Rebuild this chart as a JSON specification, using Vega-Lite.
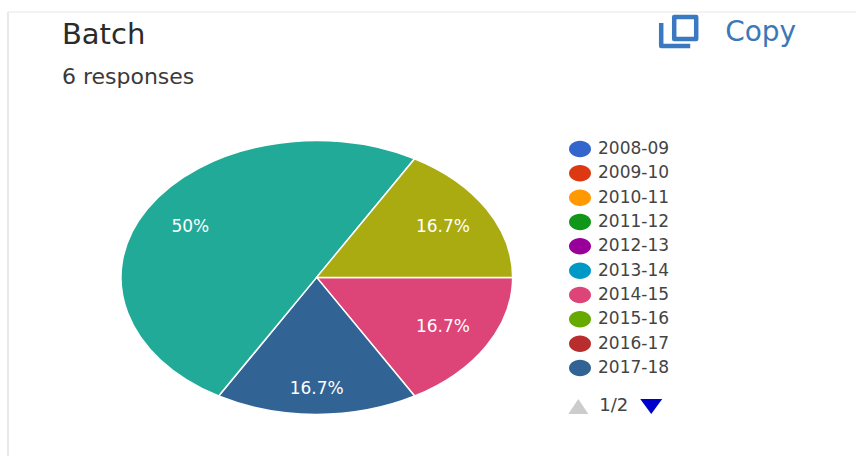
{
"$schema":"https://vega.github.io/schema/vega-lite/v6.json",
"width":857,"height":457,"padding":0,"autosize":{"type":"fit","contains":"padding"},
"background":"#ffffff",
"view":{"stroke":null},
"config":{"text":{"font":"DejaVu Sans"},"legend":{"labelFont":"DejaVu Sans"}},
"datasets":{
"slices":[
{"batch":"2014-15","responses":1,"share":"16.7%"},
{"batch":"2017-18","responses":1,"share":"16.7%"},
{"batch":"2019-20","responses":3,"share":"50%"},
{"batch":"2020-21","responses":1,"share":"16.7%"}
],
"one":[{"k":1}]
},
"layer":[
{"data":{"name":"one"},"mark":{"type":"rule","color":"#f3f3f3","strokeWidth":2},
"encoding":{"x":{"datum":8,"type":"quantitative","scale":{"domain":[0,857]},"axis":null},"x2":{"datum":857},"y":{"datum":12,"type":"quantitative","scale":{"domain":[457,0]},"axis":null}}},
{"data":{"name":"one"},"mark":{"type":"rule","color":"#e8e8e8","strokeWidth":2},
"encoding":{"x":{"datum":8,"type":"quantitative","scale":{"domain":[0,857]},"axis":null},"y":{"datum":12,"type":"quantitative","scale":{"domain":[457,0]},"axis":null},"y2":{"datum":457}}},
{"data":{"name":"slices"},
"transform":[
{"stack":"responses","sort":[{"field":"batch","order":"ascending"}],"offset":"normalize","as":["s","e"]},
{"calculate":"PI/2+2*PI*datum.s","as":"a0"},
{"calculate":"PI/2+2*PI*datum.e","as":"a1"},
{"calculate":"'M0,0L'+round(sin(datum.a0)*100000)/100000+','+round(-69900*cos(datum.a0))/100000+'A1,0.699 0 '+(datum.e-datum.s>0.5?1:0)+' 1 '+round(sin(datum.a1)*100000)/100000+','+round(-69900*cos(datum.a1))/100000+'Z'","as":"wedge"}
],
"mark":{"type":"point","filled":true,"opacity":1,"stroke":"#ffffff","strokeWidth":1.5,"size":153664},
"encoding":{
"x":{"datum":317,"type":"quantitative","scale":{"domain":[0,857]},"axis":null},
"y":{"datum":278,"type":"quantitative","scale":{"domain":[457,0]},"axis":null},
"shape":{"field":"wedge","type":"nominal","scale":null,"legend":null},
"color":{"field":"batch","type":"nominal",
"scale":{"domain":["2008-09","2009-10","2010-11","2011-12","2012-13","2013-14","2014-15","2015-16","2016-17","2017-18","2018-19","2019-20","2020-21"],
"range":["#3366cc","#dc3912","#ff9900","#109618","#990099","#0099c6","#dd4477","#66aa00","#b82e2e","#316395","#994499","#22aa99","#aaaa11"]},
"legend":{"title":null,"orient":"none","legendX":569,"legendY":138,"values":["2008-09","2009-10","2010-11","2011-12","2012-13","2013-14","2014-15","2015-16","2016-17","2017-18"],
"symbolType":"M-1,0A1,0.75 0 1 1 1,0A1,0.75 0 1 1 -1,0Z","symbolSize":484,"symbolStrokeWidth":0,"symbolOpacity":1,"labelFontSize":17,"labelColor":"#444444","labelOffset":7,"rowPadding":4.33,"padding":0}}
}},
{"data":{"name":"slices"},
"transform":[
{"stack":"responses","sort":[{"field":"batch","order":"ascending"}],"offset":"normalize","as":["s","e"]},
{"calculate":"PI/2+PI*(datum.s+datum.e)","as":"mid"},
{"calculate":"317+196*0.745*sin(datum.mid)","as":"lx"},
{"calculate":"278-137*(0.64+0.18*abs(cos(datum.mid)))*cos(datum.mid)","as":"ly"}
],
"mark":{"type":"text","color":"#ffffff","fontSize":17,"align":"center","baseline":"middle"},
"encoding":{
"x":{"field":"lx","type":"quantitative","scale":{"domain":[0,857]},"axis":null},
"y":{"field":"ly","type":"quantitative","scale":{"domain":[457,0]},"axis":null},
"text":{"field":"share"}
}},
{"data":{"values":[{"t":"Batch"}]},"mark":{"type":"text","fontSize":29,"color":"#2b2b2b","align":"left","baseline":"middle"},
"encoding":{"x":{"datum":62,"type":"quantitative","scale":{"domain":[0,857]},"axis":null},"y":{"datum":35,"type":"quantitative","scale":{"domain":[457,0]},"axis":null},"text":{"field":"t"}}},
{"data":{"values":[{"t":"6 responses"}]},"mark":{"type":"text","fontSize":22,"color":"#3a3a3a","align":"left","baseline":"middle"},
"encoding":{"x":{"datum":62,"type":"quantitative","scale":{"domain":[0,857]},"axis":null},"y":{"datum":77,"type":"quantitative","scale":{"domain":[457,0]},"axis":null},"text":{"field":"t"}}},
{"data":{"values":[{"t":"Copy"}]},"mark":{"type":"text","fontSize":28,"color":"#3b78b8","align":"left","baseline":"middle"},
"encoding":{"x":{"datum":726,"type":"quantitative","scale":{"domain":[0,857]},"axis":null},"y":{"datum":33,"type":"quantitative","scale":{"domain":[457,0]},"axis":null},"text":{"field":"t"}}},
{"data":{"values":[{"t":"1/2"}]},"mark":{"type":"text","fontSize":18,"color":"#444444","align":"left","baseline":"middle"},
"encoding":{"x":{"datum":600,"type":"quantitative","scale":{"domain":[0,857]},"axis":null},"y":{"datum":407,"type":"quantitative","scale":{"domain":[457,0]},"axis":null},"text":{"field":"t"}}},
{"data":{"name":"one"},"mark":{"type":"point","filled":false,"opacity":1,"stroke":"#3b78c2","strokeWidth":4.5,"strokeJoin":"round","size":4,"shape":"M-5,-14L17,-14L17,8L-5,8Z M-18,-8L-18,15L11,15"},
"encoding":{"x":{"datum":680,"type":"quantitative","scale":{"domain":[0,857]},"axis":null},"y":{"datum":31,"type":"quantitative","scale":{"domain":[457,0]},"axis":null}}},
{"data":{"name":"one"},"mark":{"type":"point","filled":true,"opacity":1,"color":"#cccccc","size":4,"shape":"M-10,7L0,-8L10,7Z"},
"encoding":{"x":{"datum":579,"type":"quantitative","scale":{"domain":[0,857]},"axis":null},"y":{"datum":408,"type":"quantitative","scale":{"domain":[457,0]},"axis":null}}},
{"data":{"name":"one"},"mark":{"type":"point","filled":true,"opacity":1,"color":"#0000c8","size":4,"shape":"M-11,-7L11,-7L0,8Z"},
"encoding":{"x":{"datum":652,"type":"quantitative","scale":{"domain":[0,857]},"axis":null},"y":{"datum":407,"type":"quantitative","scale":{"domain":[457,0]},"axis":null}}}
]
}
